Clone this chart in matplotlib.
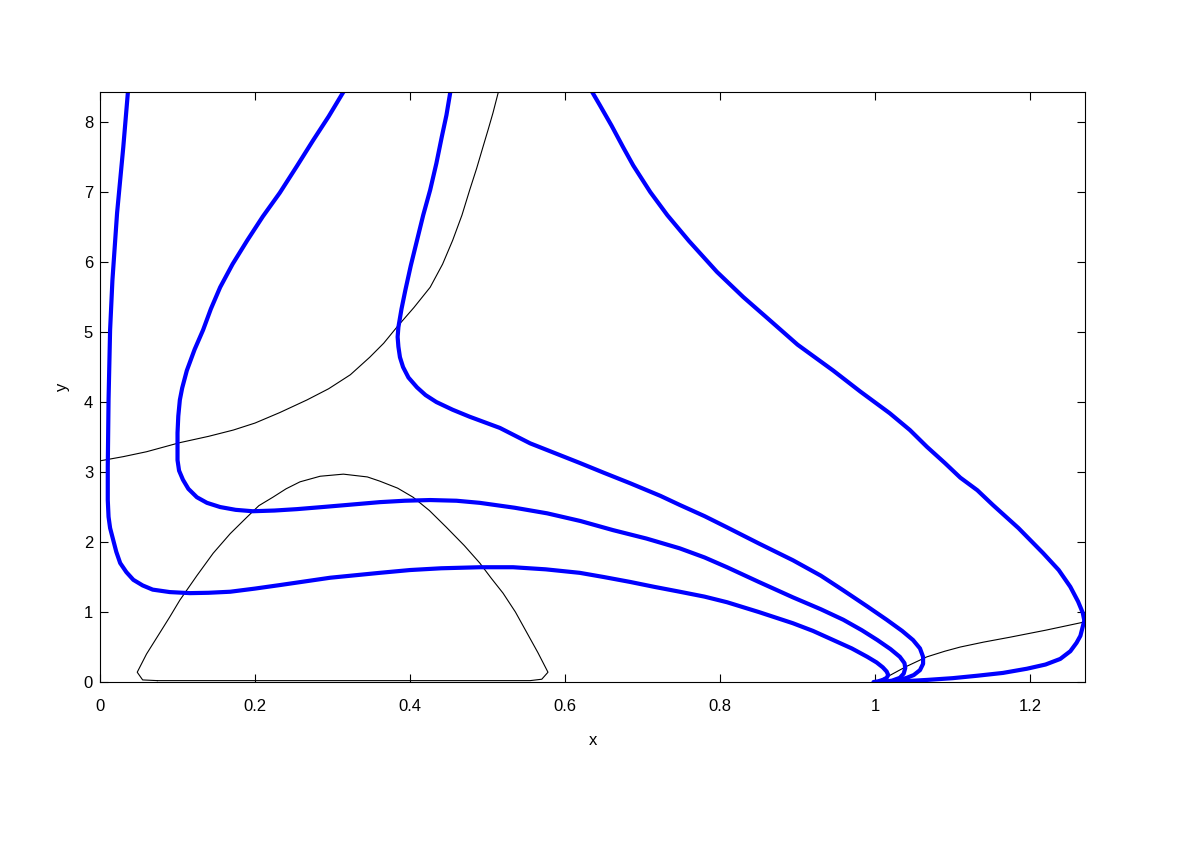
import matplotlib.pyplot as plt

# thick blue curves (x, y)
c1_x = [0.036, 0.030, 0.022, 0.016, 0.013, 0.011, 0.010, 0.010, 0.011, 0.013, 0.017, 0.021, 0.026,
        0.034, 0.043, 0.055, 0.068, 0.090, 0.116, 0.140, 0.168, 0.200, 0.232, 0.297, 0.361,
        0.400, 0.440, 0.490, 0.533, 0.575, 0.619, 0.650, 0.684, 0.715, 0.748, 0.780, 0.809,
        0.850, 0.894, 0.920, 0.946, 0.970, 0.990, 1.002, 1.010, 1.015, 1.017, 1.015, 1.010,
        1.004, 0.998]
c1_y = [8.43, 7.64, 6.70, 5.74, 5.03, 4.03, 3.07, 2.60, 2.36, 2.20, 2.03, 1.86, 1.70,
        1.57, 1.46, 1.38, 1.32, 1.285, 1.27, 1.275, 1.29, 1.335, 1.385, 1.49, 1.56,
        1.60, 1.625, 1.64, 1.64, 1.61, 1.56, 1.50, 1.43, 1.36, 1.29, 1.22, 1.14,
        1.00, 0.84, 0.73, 0.60, 0.48, 0.36, 0.28, 0.21, 0.15, 0.10, 0.06, 0.03,
        0.01, 0.0]

c2_x = [0.314, 0.295, 0.275, 0.254, 0.232, 0.210, 0.190, 0.171, 0.155, 0.143, 0.133, 0.122, 0.112,
        0.106, 0.103, 0.101, 0.100, 0.100, 0.100, 0.102, 0.107, 0.114, 0.125, 0.138, 0.155,
        0.175, 0.197, 0.225, 0.254, 0.287, 0.319, 0.361, 0.393, 0.426, 0.460, 0.490, 0.535,
        0.577, 0.620, 0.662, 0.705, 0.748, 0.780, 0.809, 0.850, 0.894, 0.930, 0.959, 0.983,
        1.003, 1.020, 1.032, 1.038, 1.039, 1.037, 1.032, 1.022, 1.010]
c2_y = [8.43, 8.08, 7.74, 7.37, 6.99, 6.65, 6.31, 5.97, 5.64, 5.33, 5.03, 4.75, 4.45,
        4.20, 4.03, 3.80, 3.56, 3.35, 3.17, 3.02, 2.89, 2.76, 2.64, 2.56, 2.50,
        2.46, 2.44, 2.45, 2.47, 2.50, 2.53, 2.57, 2.59, 2.60, 2.59, 2.56, 2.49,
        2.41, 2.30, 2.17, 2.05, 1.91, 1.78, 1.64, 1.43, 1.21, 1.04, 0.89, 0.74,
        0.60, 0.47, 0.36, 0.27, 0.20, 0.12, 0.06, 0.02, 0.0]

c3_x = [0.452, 0.447, 0.441, 0.434, 0.426, 0.417, 0.409, 0.401, 0.394, 0.389, 0.385, 0.384, 0.385,
        0.387, 0.391, 0.398, 0.409, 0.420, 0.434, 0.455, 0.477, 0.516, 0.555, 0.587, 0.619,
        0.650, 0.684, 0.723, 0.748, 0.780, 0.809, 0.850, 0.894, 0.930, 0.959, 0.990, 1.015,
        1.035, 1.049, 1.058, 1.062, 1.062, 1.058, 1.050, 1.041, 1.030, 1.020]
c3_y = [8.43, 8.10, 7.79, 7.41, 7.03, 6.67, 6.31, 5.95, 5.60, 5.33, 5.07, 4.93, 4.79,
        4.64, 4.50, 4.35, 4.21, 4.10, 4.00, 3.89, 3.79, 3.63, 3.41, 3.27, 3.13,
        2.99, 2.84, 2.66, 2.53, 2.37, 2.21, 1.98, 1.74, 1.52, 1.31, 1.08, 0.89,
        0.73, 0.60, 0.48, 0.36, 0.26, 0.17, 0.10, 0.06, 0.025, 0.0]

c4_x = [0.635, 0.645, 0.660, 0.675, 0.688, 0.710, 0.732, 0.760, 0.796, 0.830, 0.861, 0.900, 0.946,
        0.981, 1.019, 1.045, 1.067, 1.090, 1.110, 1.132, 1.152, 1.185, 1.217, 1.237, 1.252,
        1.262, 1.268, 1.270, 1.268, 1.265, 1.260, 1.252, 1.239, 1.220, 1.196, 1.165, 1.132,
        1.100, 1.067, 1.035, 1.006]
c4_y = [8.43, 8.24, 7.95, 7.64, 7.38, 7.00, 6.67, 6.30, 5.86, 5.50, 5.20, 4.82, 4.45,
        4.15, 3.84, 3.60, 3.36, 3.13, 2.92, 2.74, 2.53, 2.20, 1.84, 1.60, 1.36,
        1.15, 0.99, 0.88, 0.79, 0.66, 0.56, 0.44, 0.33, 0.25, 0.19, 0.13, 0.09,
        0.055, 0.03, 0.01, 0.0]

# thin black curves
a_x = [0.0, 0.030, 0.060, 0.103, 0.140, 0.172, 0.200, 0.232, 0.267, 0.295, 0.323, 0.348, 0.366,
       0.383, 0.405, 0.426, 0.442, 0.455, 0.467, 0.477, 0.486, 0.494, 0.501, 0.507, 0.514]
a_y = [3.16, 3.22, 3.29, 3.42, 3.51, 3.60, 3.70, 3.85, 4.03, 4.19, 4.39, 4.64, 4.84,
       5.07, 5.35, 5.64, 5.97, 6.31, 6.67, 7.03, 7.34, 7.64, 7.90, 8.13, 8.43]

b_x = [0.074, 0.055, 0.048, 0.060, 0.077, 0.090, 0.103, 0.125, 0.146, 0.168, 0.190, 0.205, 0.223,
       0.240, 0.258, 0.284, 0.314, 0.345, 0.361, 0.384, 0.404, 0.425, 0.447, 0.470, 0.490,
       0.505, 0.520, 0.536, 0.551, 0.565, 0.578, 0.570, 0.555, 0.074]
b_y = [0.02, 0.03, 0.14, 0.40, 0.70, 0.93, 1.17, 1.52, 1.84, 2.12, 2.36, 2.52, 2.64,
       2.76, 2.86, 2.94, 2.97, 2.93, 2.87, 2.77, 2.64, 2.45, 2.21, 1.95, 1.70,
       1.48, 1.27, 1.00, 0.70, 0.42, 0.14, 0.04, 0.02, 0.02]

cc_x = [1.0, 1.015, 1.040, 1.067, 1.090, 1.110, 1.140, 1.174, 1.220, 1.271]
cc_y = [0.0, 0.07, 0.22, 0.36, 0.44, 0.50, 0.57, 0.64, 0.74, 0.86]

plt.rcParams['font.family'] = ['Liberation Sans', 'DejaVu Sans']

fig = plt.figure(figsize=(11.95, 8.58), dpi=100)
ax = fig.add_axes([0.0837, 0.2051, 0.8243, 0.6877])

for xs, ys in [(a_x, a_y), (b_x, b_y), (cc_x, cc_y)]:
    ax.plot(xs, ys, color='black', lw=0.8)
for xs, ys in [(c1_x, c1_y), (c2_x, c2_y), (c3_x, c3_y), (c4_x, c4_y)]:
    ax.plot(xs, ys, color='#0000ff', lw=3.0, solid_joinstyle='round', solid_capstyle='round')

ax.set_xlim(0, 1.271)
ax.set_ylim(0, 8.43)
ax.set_xticks([0, 0.2, 0.4, 0.6, 0.8, 1, 1.2])
ax.set_xticklabels(['0', '0.2', '0.4', '0.6', '0.8', '1', '1.2'])
ax.set_yticks(range(0, 9))
ax.tick_params(direction='in', length=6, width=0.8, top=True, right=True, labelsize=12)
ax.tick_params(axis='x', pad=12)
ax.tick_params(axis='y', pad=5)
for s in ax.spines.values():
    s.set_linewidth(0.8)
ax.set_xlabel('x', fontsize=12, labelpad=14)
ax.set_ylabel('y', fontsize=12, labelpad=10)

fig.savefig('out.png', dpi=100)
